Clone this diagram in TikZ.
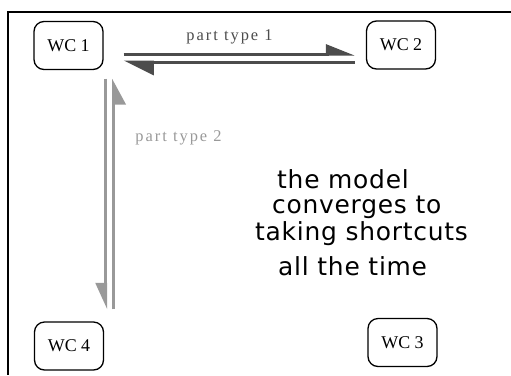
\documentclass[tikz,border=0pt]{standalone}
\usepackage{fontspec}
\setmainfont{Liberation Serif}
\newfontfamily\notefont{DejaVu Sans}[LetterSpace=3]
\newfontfamily\labelfont{Liberation Serif}[LetterSpace=12]
\usetikzlibrary{arrows.meta}
\begin{document}
\begin{tikzpicture}[x=1bp,y=-1bp,
  wc/.style={draw, line width=1.3bp, rounded corners=10bp, minimum width=69bp,
    minimum height=48bp, inner sep=0pt, font=\fontsize{18}{18}\selectfont},
  hflow/.style={line width=3bp, draw=black!70},
  vflow/.style={line width=3bp, draw=black!40},
  flowlabel/.style={anchor=base, inner sep=0pt, font=\labelfont\fontsize{16.5}{16.5}\selectfont},
  note/.style={anchor=base west, inner sep=0pt, font=\notefont\fontsize{25}{25}\selectfont}]
\useasboundingbox (0,0) rectangle (511,375);

% open frame: top and left edges only
\draw[line width=2bp] (511,12) -- (8,12) -- (8,375);

% work centres
\node[wc] (wc1) at (68.5,45.5) {WC 1};
\node[wc] (wc2) at (401,45)   {WC 2};
\node[wc] (wc3) at (402.5,342.5) {WC 3};
\node[wc] (wc4) at (69,346)   {WC 4};

% part type 1: WC 1 <-> WC 2
\draw[hflow, shorten <=20bp, shorten >=11bp,
  -{Triangle[harpoon, length=25bp, width=19bp, fill=black!70]}]
  ([yshift=-8.5bp]wc1.east) -- ([yshift=-8.5bp]wc1.east -| wc2.west);
\draw[hflow, shorten <=11bp, shorten >=20bp,
  -{Triangle[harpoon, length=27bp, width=26bp, fill=black!70]}]
  ([yshift=-16.5bp]wc1.east -| wc2.west) -- ([yshift=-16.5bp]wc1.east);
\node[flowlabel, text=black!70] (pt1) at (229.5,40) {part type 1};

% part type 2: WC 1 <-> WC 4
\draw[vflow, shorten <=8.5bp, shorten >=12bp,
  -{Triangle[harpoon, swap, length=23bp, width=20bp, fill=black!40]}]
  ([xshift=2bp]wc1.south east) -- ([xshift=2bp]wc1.south east |- wc4.north);
\draw[vflow, shorten <=12bp, shorten >=8.5bp,
  -{Triangle[harpoon, swap, length=23bp, width=24bp, fill=black!40]}]
  ([xshift=10bp]wc1.south east |- wc4.north) -- ([xshift=10bp]wc1.south east);
\node[flowlabel, text=black!40] (pt2) at (178.5,141) {part type 2};

% remark
\node[note] (n1) at (277,188) {the model};
\node[note] (n2) at (272,213) {converges to};
\node[note] (n3) at (255,240) {taking shortcuts};
\node[note] (n4) at (278,275) {all the time};
\end{tikzpicture}
\end{document}
